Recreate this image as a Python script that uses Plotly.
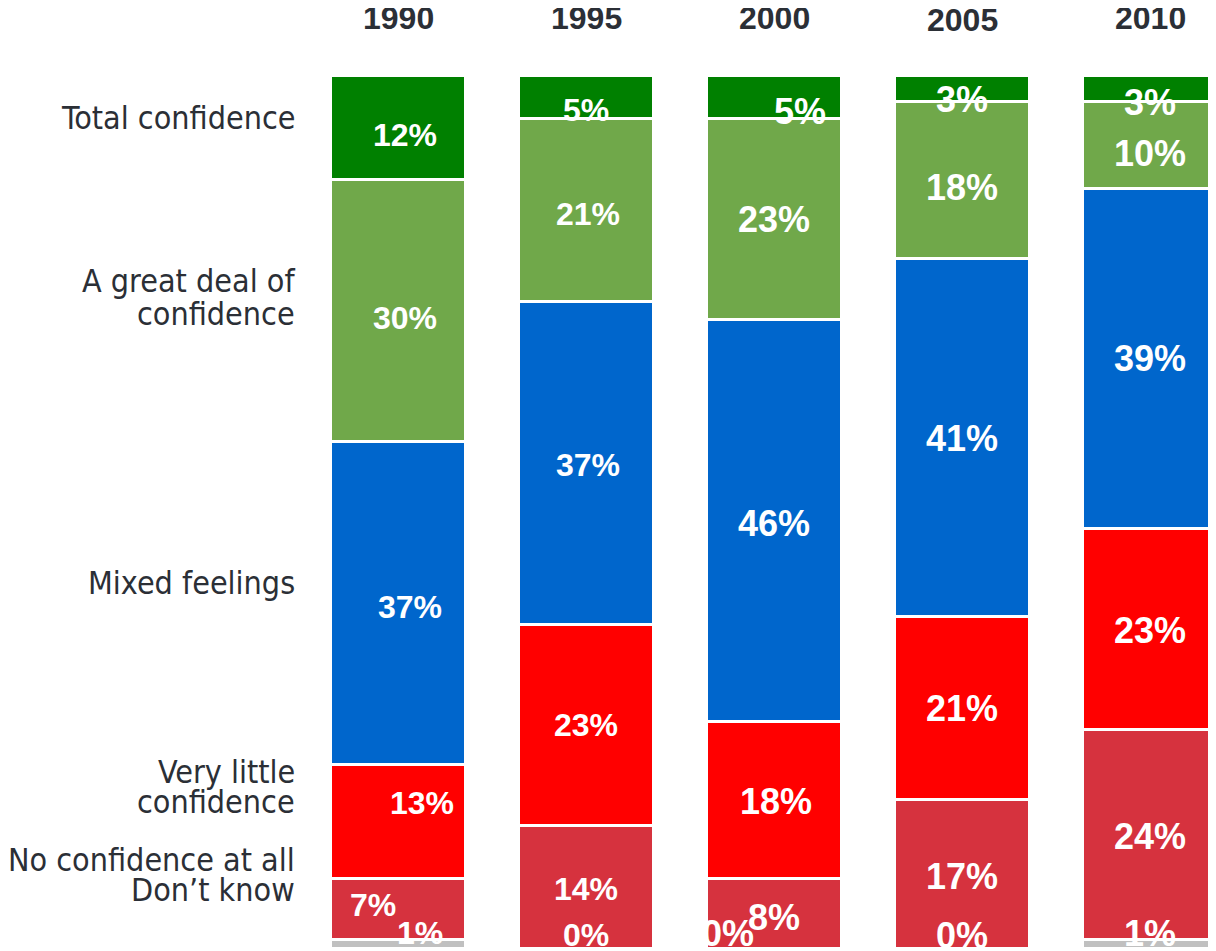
import plotly.graph_objects as go

years = ["1990", "1995", "2000", "2005", "2010"]

# bottom to top stacking order
categories = [
    "Don’t know",
    "No confidence at all",
    "Very little confidence",
    "Mixed feelings",
    "A great deal of confidence",
    "Total confidence",
]
dont_know = [1, 0, 0, 0, 1]
no_confidence = [7, 14, 8, 17, 24]
very_little = [13, 23, 18, 21, 23]
mixed = [37, 37, 46, 41, 39]
great_deal = [30, 21, 23, 18, 10]
total_conf = [12, 5, 5, 3, 3]

series = [dont_know, no_confidence, very_little, mixed, great_deal, total_conf]
colors = ["#c0c0c0", "#d6323e", "#ff0000", "#0066cc", "#70a84a", "#008000"]

# pixel nudges (dx, dy) for value labels, per series per year
label_nudge = [
    [(22, -11), (0, -13), (-46, -15), (0, -13), (0, -10)],
    [(-25, -4), (0, 2), (0, 4), (0, 3), (0, 2)],
    [(24, -18), (0, 0), (2, 2), (0, 1), (0, 1)],
    [(12, 4), (2, 2), (0, 3), (0, 1), (0, 0)],
    [(7, 7), (2, 4), (0, 0), (0, 8), (0, 9)],
    [(7, 8), (0, 13), (26, 15), (0, 11), (0, 14)],
]
label_size = [32, 32, 36, 36, 36]

# category text on the left, one entry per line (text, pixel y)
left_labels = [
    ("Total confidence", 118),
    ("A great deal of", 281),
    ("confidence", 314),
    ("Mixed feelings", 583),
    ("Very little", 772),
    ("confidence", 802),
    ("No confidence at all", 860),
    ("Don’t know", 890),
]

# page body adds an 8px margin, so the figure is shifted by that much
OFF = 8
TOP, BOTTOM, H = 75, 948, 951

fig = go.Figure()
for name, vals, color in zip(categories, series, colors):
    fig.add_trace(go.Bar(
        x=list(range(len(years))),
        y=vals,
        name=name,
        width=0.72,
        marker=dict(color=color, line=dict(color="white", width=3)),
        hoverinfo="skip",
    ))

annotations = []
for j, year in enumerate(years):
    base = 0
    for i, vals in enumerate(series):
        v = vals[j]
        dx, dy = label_nudge[i][j]
        annotations.append(dict(
            x=j, y=base + v / 2, xref="x", yref="y",
            text=f"<b>{v}%</b>", showarrow=False,
            xshift=dx, yshift=-dy,
            font=dict(family="Liberation Sans, Arial, sans-serif", size=label_size[j], color="white"),
        ))
        base += v
    annotations.append(dict(
        x=j, y=1, xref="x", yref="paper", text=f"<b>{year}</b>",
        showarrow=False, yanchor="middle", yshift=57 if year != "2005" else 55,
        font=dict(family="Liberation Sans, Arial, sans-serif", size=32, color="#2b2f36"),
    ))

for text, py in left_labels:
    annotations.append(dict(
        x=0, y=(BOTTOM - py) / (BOTTOM - TOP), xref="paper", yref="paper",
        text=text, showarrow=False, xanchor="right", yanchor="middle",
        xshift=-7, align="right",
        font=dict(family="DejaVu Sans Condensed, DejaVu Sans, sans-serif", size=32, color="#2b2f36"),
    ))

fig.update_layout(
    barmode="stack",
    width=1216 - OFF,
    height=H - OFF,
    margin=dict(l=304 - OFF, r=0, t=TOP - OFF, b=H - BOTTOM),
    plot_bgcolor="white",
    paper_bgcolor="white",
    showlegend=False,
    annotations=annotations,
    xaxis=dict(range=[-0.5, 4.351], visible=False),
    yaxis=dict(range=[0, 100], visible=False),
)

fig.write_html("out.html")
